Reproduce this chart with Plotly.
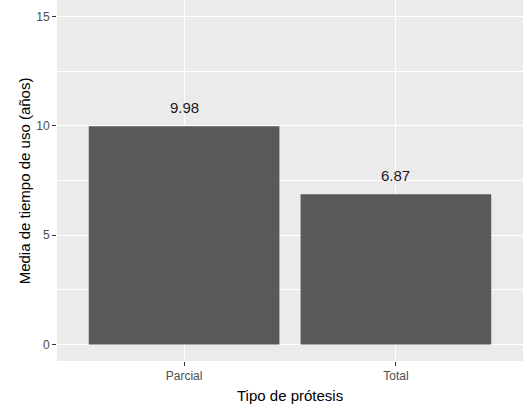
import plotly.graph_objects as go

categories = ["Parcial", "Total"]
values = [9.98, 6.87]
y_ticks = [0, 5, 10, 15]

FONT = "Liberation Sans, Arial, sans-serif"

fig = go.Figure()
fig.add_trace(go.Bar(x=categories, y=values, marker=dict(color="#595959", line=dict(width=0)),
                     width=0.9, hoverinfo="skip"))

for c, v in zip(categories, values):
    fig.add_annotation(x=c, y=v, text=f"{v:.2f}", showarrow=False, xref="x", yref="y",
                       yanchor="bottom", yshift=8, font=dict(family=FONT, size=15, color="#1a1a1a"))

fig.add_annotation(text="Tipo de prótesis", xref="paper", yref="paper", x=0.5, y=-0.095,
                   xanchor="center", yanchor="middle", showarrow=False,
                   font=dict(family=FONT, size=15, color="black"))
fig.add_annotation(text="Media de tiempo de uso (años)", xref="paper", yref="paper",
                   x=-0.069, y=0.5, textangle=-90, xanchor="center", yanchor="middle", showarrow=False,
                   font=dict(family=FONT, size=15, color="black"))

fig.update_layout(
    width=523, height=407,
    margin=dict(l=57, r=0, t=0, b=46),
    paper_bgcolor="white", plot_bgcolor="#EBEBEB",
    showlegend=False, bargap=0.1,
    font=dict(family=FONT),
)
fig.update_xaxes(
    range=[-0.6, 1.6], showgrid=True, gridcolor="white", gridwidth=1.1, automargin=False,
    ticks="outside", ticklen=4, tickcolor="#333333", tickwidth=1,
    tickfont=dict(family=FONT, size=12, color="#4D4D4D"),
    zeroline=False, showline=False,
)
fig.update_yaxes(
    range=[-0.75, 15.75], tickvals=y_ticks, showgrid=True, gridcolor="white", gridwidth=1.1,
    automargin=False,
    minor=dict(dtick=2.5, tick0=0, showgrid=True, gridcolor="white", gridwidth=0.5, ticks=""),
    ticks="outside", ticklen=4, tickcolor="#333333", tickwidth=1,
    tickfont=dict(family=FONT, size=12, color="#4D4D4D"),
    zeroline=False, showline=False,
)

fig.write_html("out.html", config={"displayModeBar": False},
               post_script="document.body.style.margin='0';document.body.style.overflow='hidden';")
